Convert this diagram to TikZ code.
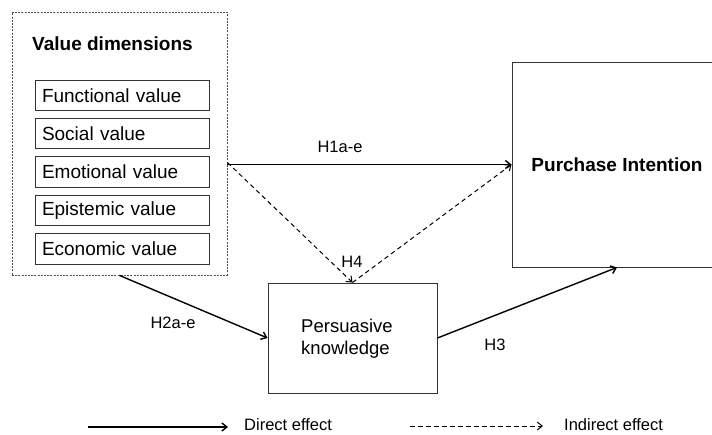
\documentclass[tikz,border=0pt]{standalone}
\usepackage{fontspec}
\setmainfont{Liberation Sans}
\usepackage{tikz}
\usetikzlibrary{arrows.meta,positioning,calc}

\begin{document}
\begin{tikzpicture}[
  x=1pt, y=-1pt,
  node distance=7pt and 12pt,
  vbox/.style={rectangle, draw=black!80, line width=0.9pt, align=left, text width=160pt, inner xsep=7pt, inner ysep=0pt, minimum height=30.5pt, font=\fontsize{19}{22}\selectfont},
  bigbox/.style={rectangle, draw=black!80, line width=0.9pt, inner sep=0pt},
  grp/.style={rectangle, draw=black!70, line width=0.9pt, dash pattern=on 2pt off 1.2pt, inner sep=0pt},
  lbl/.style={inner sep=1pt, font=\fontsize{16.5}{19}\selectfont},
  direct/.style={draw, line width=1.4pt, -{Straight Barb[length=5pt,width=8pt]}},
  indirect/.style={draw, line width=1pt, dash pattern=on 4.5pt off 3.5pt, -{Straight Barb[length=5pt,width=8pt]}}
]
\useasboundingbox (0,0) rectangle (712,434);

% Value dimensions group
\node[grp, minimum width=215pt, minimum height=263pt] (VD) at (119.5,143.5) {};
\node[anchor=west, inner sep=0pt, font=\fontsize{19}{22}\selectfont\bfseries] (TITLE) at (32,44) {Value dimensions};

\node[vbox] (FUNC) at (122,95.25) {Functional value};
\node[vbox, below=of FUNC] (SOC) {Social value};
\node[vbox, below=of SOC] (EMO) {Emotional value};
\node[vbox, below=of EMO] (EPI) {Epistemic value};
\node[vbox, below=of EPI] (ECO) {Economic value};

% Outcome and mediator
\node[bigbox, minimum width=210pt, minimum height=205pt] (PI) at (617,164.5) {};
\node[inner sep=0pt, font=\fontsize{19}{22}\selectfont\bfseries] (PITXT) at (617,165) {Purchase Intention};
\node[bigbox, minimum width=169pt, minimum height=110pt] (PK) at (352.5,338) {};
\node[align=left, inner sep=0pt, font=\fontsize{18.5}{22}\selectfont] (PKTXT) at (347,339) {Persuasive\\knowledge};

% Paths
\path[direct] (VD.east |- PI.west) -- (PI.west);
\path[indirect] ($(VD.east)+(0,19)$) -- (PK.north);
\path[indirect] (PK.north) -- (PI.west);
\path[direct] (VD.south) -- (PK.west);
\path[direct] (PK.east) -- (PI.south);

\node[lbl] (H1) at (340,147) {H1a-e};
\node[lbl] (H4) at (352,262) {H4};
\node[lbl] (H2) at (173,323) {H2a-e};
\node[lbl] (H3) at (495,345) {H3};

% Legend
\coordinate (LD0) at (88,427);
\coordinate (LD1) at (228,427);
\node[lbl, anchor=west] (DIRECT) at (243,424.5) {Direct effect};
\coordinate (LI0) at (410,426);
\coordinate (LI1) at (543,426);
\node[lbl, anchor=west] (INDIRECT) at (563,424.5) {Indirect effect};
\path[direct] (LD0) -- (LD1);
\path[indirect] (LI0) -- (LI1);

\end{tikzpicture}
\end{document}
